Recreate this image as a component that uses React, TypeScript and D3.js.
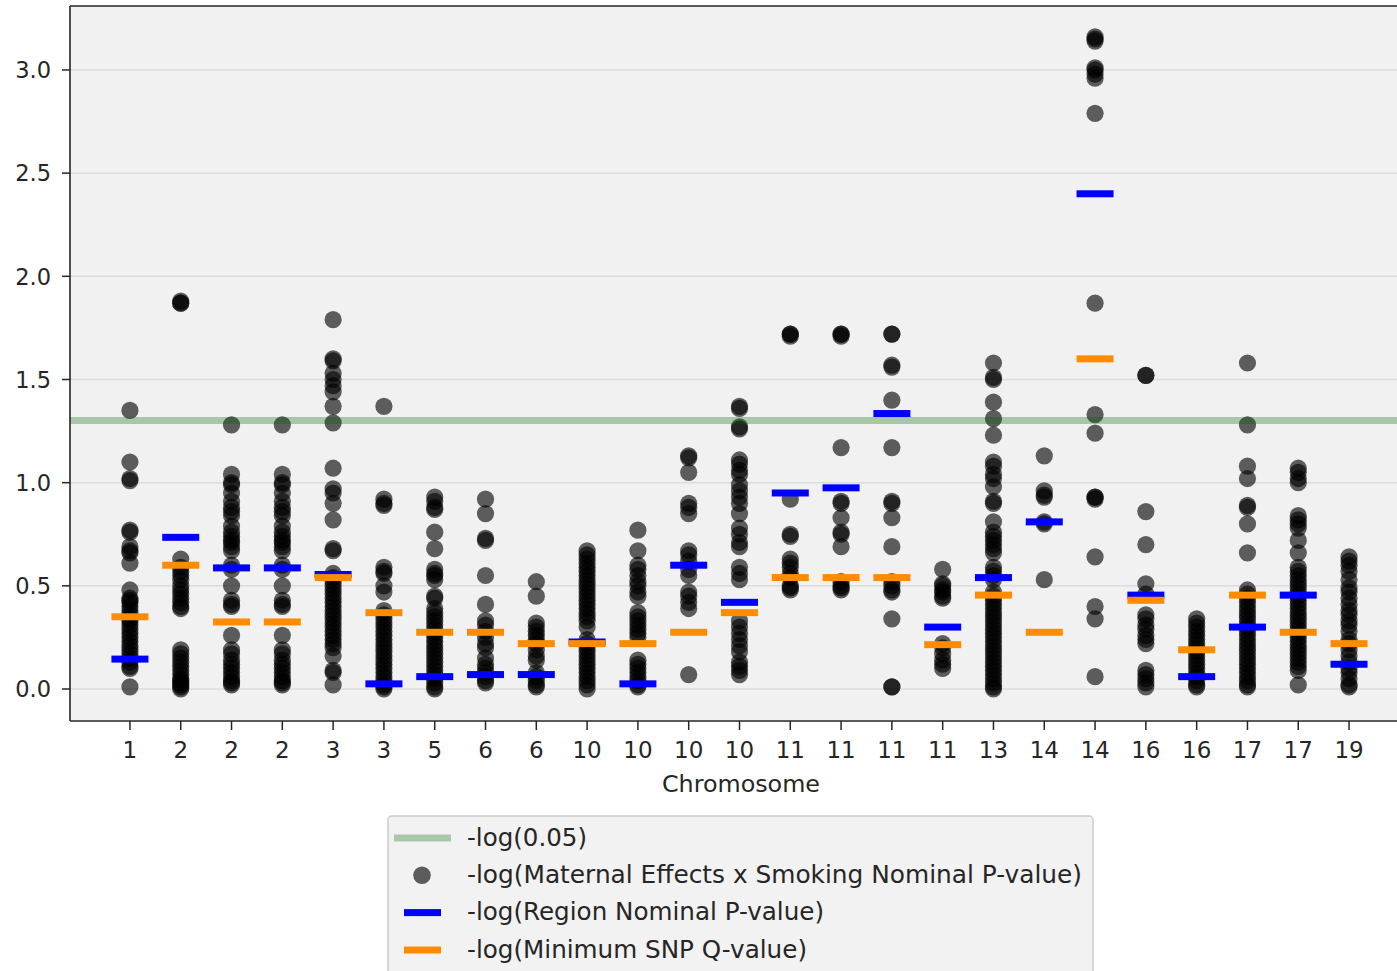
import React from "react";
import * as d3 from "d3";

// Chromosome label for each tested region (x axis, one column per region)
const chromosomeLabels = [
  "1", "2", "2", "2", "3", "3", "5", "6", "6", "10", "10", "10", "10",
  "11", "11", "11", "11", "13", "14", "14", "16", "16", "17", "17", "19",
];

// -log10 nominal p-values of the maternal effects x smoking interaction, per SNP in each region
const snpPValues: number[][] = [
  [1.35, 1.10, 1.02, 1.01, 0.77, 0.76, 0.69, 0.67, 0.66, 0.61, 0.48, 0.44, 0.43, 0.42, 0.40, 0.38, 0.36, 0.34, 0.33, 0.31, 0.29, 0.27, 0.25, 0.23, 0.21, 0.19, 0.17, 0.15, 0.13, 0.11, 0.10, 0.01],
  [1.88, 1.87, 1.87, 0.63, 0.59, 0.57, 0.55, 0.53, 0.50, 0.48, 0.46, 0.44, 0.42, 0.40, 0.39, 0.19, 0.17, 0.15, 0.13, 0.11, 0.09, 0.07, 0.05, 0.04, 0.03, 0.02, 0.01, 0.00],
  [1.28, 1.04, 1.00, 0.99, 0.95, 0.91, 0.88, 0.86, 0.84, 0.79, 0.76, 0.74, 0.72, 0.71, 0.69, 0.67, 0.60, 0.58, 0.50, 0.43, 0.41, 0.40, 0.26, 0.19, 0.17, 0.14, 0.12, 0.10, 0.08, 0.06, 0.04, 0.03, 0.02],
  [1.28, 1.04, 1.00, 0.99, 0.95, 0.91, 0.88, 0.86, 0.84, 0.79, 0.76, 0.74, 0.72, 0.71, 0.69, 0.67, 0.60, 0.58, 0.50, 0.43, 0.41, 0.40, 0.26, 0.19, 0.17, 0.14, 0.12, 0.10, 0.08, 0.06, 0.04, 0.03, 0.02],
  [1.79, 1.60, 1.59, 1.53, 1.50, 1.47, 1.44, 1.37, 1.29, 1.07, 0.97, 0.95, 0.90, 0.82, 0.68, 0.67, 0.56, 0.54, 0.52, 0.50, 0.48, 0.46, 0.44, 0.42, 0.40, 0.38, 0.36, 0.34, 0.32, 0.30, 0.28, 0.26, 0.24, 0.22, 0.20, 0.16, 0.09, 0.08, 0.02],
  [1.37, 0.92, 0.90, 0.89, 0.59, 0.57, 0.56, 0.50, 0.47, 0.38, 0.36, 0.34, 0.32, 0.30, 0.28, 0.26, 0.24, 0.22, 0.20, 0.18, 0.16, 0.14, 0.12, 0.10, 0.08, 0.06, 0.04, 0.02, 0.01, 0.00],
  [0.93, 0.91, 0.88, 0.87, 0.76, 0.68, 0.58, 0.56, 0.55, 0.53, 0.45, 0.44, 0.39, 0.37, 0.35, 0.33, 0.31, 0.29, 0.27, 0.25, 0.23, 0.21, 0.19, 0.17, 0.15, 0.13, 0.11, 0.09, 0.07, 0.05, 0.03, 0.01, 0.00],
  [0.92, 0.85, 0.73, 0.72, 0.55, 0.41, 0.33, 0.31, 0.28, 0.25, 0.22, 0.20, 0.15, 0.12, 0.10, 0.08, 0.06, 0.04, 0.03],
  [0.52, 0.45, 0.32, 0.30, 0.28, 0.26, 0.24, 0.22, 0.19, 0.16, 0.14, 0.08, 0.06, 0.04, 0.02, 0.01],
  [0.67, 0.65, 0.63, 0.61, 0.59, 0.57, 0.55, 0.53, 0.51, 0.49, 0.47, 0.45, 0.43, 0.41, 0.39, 0.37, 0.35, 0.33, 0.30, 0.24, 0.22, 0.20, 0.18, 0.16, 0.14, 0.12, 0.10, 0.08, 0.06, 0.04, 0.02, 0.00],
  [0.77, 0.67, 0.60, 0.58, 0.55, 0.52, 0.50, 0.47, 0.45, 0.37, 0.35, 0.33, 0.31, 0.29, 0.27, 0.25, 0.14, 0.12, 0.10, 0.08, 0.06, 0.04, 0.02, 0.01],
  [1.13, 1.12, 1.05, 0.90, 0.88, 0.85, 0.67, 0.65, 0.62, 0.58, 0.55, 0.47, 0.45, 0.42, 0.39, 0.07],
  [1.37, 1.36, 1.27, 1.26, 1.11, 1.09, 1.06, 1.04, 0.99, 0.96, 0.93, 0.90, 0.85, 0.78, 0.75, 0.71, 0.69, 0.59, 0.56, 0.53, 0.33, 0.30, 0.27, 0.24, 0.21, 0.18, 0.13, 0.11, 0.09, 0.07],
  [1.72, 1.72, 1.71, 0.92, 0.75, 0.74, 0.63, 0.61, 0.59, 0.56, 0.54, 0.50, 0.49, 0.48],
  [1.72, 1.72, 1.71, 1.17, 0.91, 0.90, 0.83, 0.76, 0.75, 0.69, 0.52, 0.50, 0.49, 0.48],
  [1.72, 1.72, 1.57, 1.56, 1.40, 1.17, 0.91, 0.90, 0.83, 0.69, 0.52, 0.50, 0.48, 0.47, 0.34, 0.01, 0.01],
  [0.58, 0.51, 0.50, 0.48, 0.47, 0.45, 0.44, 0.22, 0.20, 0.17, 0.14, 0.12, 0.10],
  [1.58, 1.51, 1.50, 1.39, 1.31, 1.23, 1.10, 1.08, 1.04, 1.02, 0.98, 0.91, 0.90, 0.81, 0.76, 0.74, 0.72, 0.70, 0.68, 0.66, 0.59, 0.57, 0.55, 0.53, 0.47, 0.45, 0.43, 0.41, 0.39, 0.37, 0.35, 0.33, 0.31, 0.29, 0.27, 0.25, 0.23, 0.21, 0.19, 0.17, 0.15, 0.13, 0.11, 0.09, 0.07, 0.05, 0.03, 0.01, 0.00],
  [1.13, 0.96, 0.94, 0.93, 0.81, 0.80, 0.53],
  [3.16, 3.15, 3.14, 3.01, 3.00, 2.98, 2.96, 2.79, 1.87, 1.33, 1.24, 0.93, 0.92, 0.93, 0.64, 0.40, 0.34, 0.06],
  [1.52, 1.52, 0.86, 0.70, 0.51, 0.46, 0.36, 0.34, 0.31, 0.29, 0.26, 0.24, 0.22, 0.09, 0.07, 0.05, 0.03, 0.01],
  [0.34, 0.32, 0.30, 0.28, 0.26, 0.24, 0.22, 0.20, 0.18, 0.16, 0.14, 0.12, 0.10, 0.08, 0.06, 0.04, 0.02, 0.01],
  [1.58, 1.28, 1.08, 1.02, 0.89, 0.88, 0.80, 0.66, 0.48, 0.46, 0.44, 0.42, 0.40, 0.38, 0.36, 0.34, 0.32, 0.30, 0.28, 0.26, 0.24, 0.22, 0.20, 0.18, 0.16, 0.14, 0.12, 0.10, 0.08, 0.06, 0.04, 0.02, 0.01],
  [1.07, 1.05, 1.02, 1.00, 0.84, 0.82, 0.80, 0.78, 0.72, 0.66, 0.59, 0.57, 0.55, 0.53, 0.51, 0.49, 0.47, 0.45, 0.43, 0.41, 0.39, 0.37, 0.35, 0.33, 0.31, 0.29, 0.27, 0.25, 0.23, 0.21, 0.19, 0.17, 0.15, 0.13, 0.11, 0.09, 0.02],
  [0.64, 0.62, 0.60, 0.57, 0.53, 0.49, 0.47, 0.44, 0.41, 0.38, 0.36, 0.33, 0.31, 0.28, 0.24, 0.22, 0.19, 0.16, 0.13, 0.10, 0.08, 0.05, 0.02, 0.01],
];

// -log10 region-level nominal p-value
const regionPValues = [
  0.145, 0.735, 0.587, 0.587, 0.555, 0.025, 0.06, 0.07, 0.07, 0.228, 0.025, 0.60, 0.42,
  0.95, 0.975, 1.335, 0.30, 0.54, 0.81, 2.40, 0.455, 0.06, 0.30, 0.455, 0.12,
];

// -log10 of the smallest SNP q-value in each region
const minSnpQValues = [
  0.35, 0.60, 0.325, 0.325, 0.54, 0.37, 0.275, 0.275, 0.22, 0.22, 0.22, 0.275, 0.37,
  0.54, 0.54, 0.54, 0.215, 0.455, 0.275, 1.60, 0.43, 0.19, 0.455, 0.275, 0.22,
];

const yTicks = [0.0, 0.5, 1.0, 1.5, 2.0, 2.5, 3.0];
const significanceLine = -Math.log10(0.05);
const xLimits = [-1.18, 25.2];
const yLimits = [-0.155, 3.31];

const legendLabels = [
  "-log(0.05)",
  "-log(Maternal Effects x Smoking Nominal P-value)",
  "-log(Region Nominal P-value)",
  "-log(Minimum SNP Q-value)",
];

const W = 1397;
const H = 971;
const plot = { left: 70, right: 1410, top: 6, bottom: 721 };
const FONT = "'DejaVu Sans', Verdana, sans-serif";
const TEXT = "#262626";
const BG = "#f1f1f1";

export default function App() {
  const x = d3.scaleLinear().domain(xLimits).range([plot.left, plot.right]);
  const y = d3.scaleLinear().domain(yLimits).range([plot.bottom, plot.top]);

  const points = snpPValues.flatMap((vals, i) => vals.map((v) => ({ i, v })));
  const markW = 37;
  const markH = 7;

  const legendX = 388;
  const legendY = 816;
  const rowY = [838, 875.3, 912.6, 950];
  const textWidths = [120, 615, 357, 340];

  return (
    <svg
      width={W}
      height={H}
      style={{ position: "absolute", left: 0, top: 0, background: "#ffffff" }}
      fontFamily={FONT}
    >
      <rect x={plot.left} y={plot.top} width={W - plot.left} height={plot.bottom - plot.top} fill={BG} />

      {/* horizontal grid */}
      {yTicks.map((t) => (
        <line key={`g${t}`} x1={plot.left} x2={W} y1={y(t)} y2={y(t)} stroke="#dcdcdc" strokeWidth={1.5} />
      ))}

      {/* SNP-level points */}
      <g>
        {points.map((p, k) => (
          <circle key={k} cx={x(p.i)} cy={y(p.v)} r={8.6} fill="#000" fillOpacity={0.62} />
        ))}
      </g>

      {/* region nominal p-value markers */}
      {regionPValues.map((v, i) => (
        <rect key={`b${i}`} x={x(i) - markW / 2} y={y(v) - markH / 2} width={markW} height={markH} fill="#0000ff" />
      ))}

      {/* minimum SNP q-value markers */}
      {minSnpQValues.map((v, i) => (
        <rect key={`o${i}`} x={x(i) - markW / 2} y={y(v) - markH / 2} width={markW} height={markH} fill="#ff8c00" />
      ))}

      {/* significance threshold */}
      <line
        x1={plot.left}
        x2={W}
        y1={y(significanceLine)}
        y2={y(significanceLine)}
        stroke="#006400"
        strokeOpacity={0.3}
        strokeWidth={7}
      />

      {/* spines */}
      <line x1={plot.left} x2={plot.left} y1={plot.top} y2={plot.bottom} stroke={TEXT} strokeWidth={1.6} />
      <line x1={plot.left} x2={W} y1={plot.top} y2={plot.top} stroke={TEXT} strokeWidth={1.6} />
      <line x1={plot.left} x2={W} y1={plot.bottom} y2={plot.bottom} stroke={TEXT} strokeWidth={1.6} />

      {/* y axis */}
      {yTicks.map((t) => (
        <g key={`yt${t}`}>
          <line x1={plot.left - 8} x2={plot.left} y1={y(t)} y2={y(t)} stroke={TEXT} strokeWidth={1.5} />
          <text x={51} y={y(t) + 8.3} textAnchor="end" fontSize={22.5} fill={TEXT}>
            {t.toFixed(1)}
          </text>
        </g>
      ))}

      {/* x axis */}
      {chromosomeLabels.map((lab, i) => (
        <g key={`xt${i}`}>
          <line x1={x(i)} x2={x(i)} y1={plot.bottom} y2={plot.bottom + 9} stroke={TEXT} strokeWidth={1.5} />
          <text x={x(i)} y={758} textAnchor="middle" fontSize={23} fill={TEXT}>
            {lab}
          </text>
        </g>
      ))}
      <text x={741} y={792} textAnchor="middle" fontSize={23.5} fill={TEXT} textLength={158} lengthAdjust="spacingAndGlyphs">
        Chromosome
      </text>

      {/* legend */}
      <rect x={legendX} y={legendY} width={705} height={180} rx={4} fill={BG} fillOpacity={0.9} stroke="#cccccc" strokeWidth={1.5} />
      <line x1={394} x2={451} y1={rowY[0]} y2={rowY[0]} stroke="#006400" strokeOpacity={0.3} strokeWidth={7} />
      <circle cx={422} cy={rowY[1]} r={8.8} fill="#000" fillOpacity={0.62} />
      <rect x={404} y={rowY[2] - markH / 2} width={markW} height={markH} fill="#0000ff" />
      <rect x={404} y={rowY[3] - markH / 2} width={markW} height={markH} fill="#ff8c00" />
      {legendLabels.map((lab, k) => (
        <text
          key={`l${k}`}
          x={467}
          y={rowY[k] + 7.5}
          fontSize={24}
          fill={TEXT}
          textLength={textWidths[k]}
          lengthAdjust="spacingAndGlyphs"
        >
          {lab}
        </text>
      ))}
    </svg>
  );
}
